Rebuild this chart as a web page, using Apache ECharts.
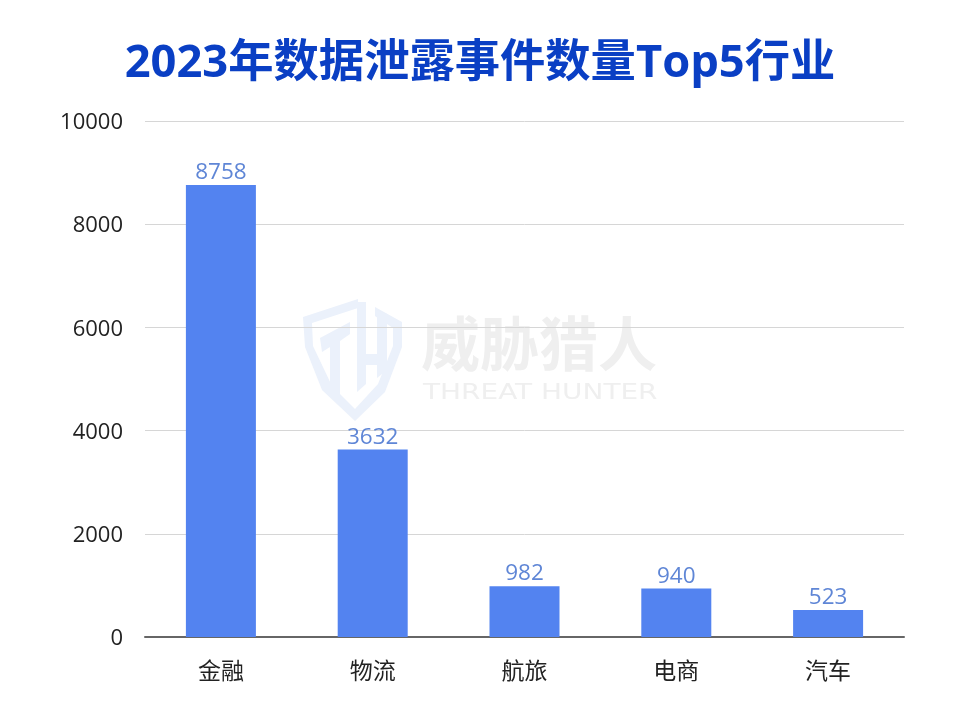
<!DOCTYPE html>
<html><head><meta charset="utf-8">
<style>html,body{margin:0;padding:0;background:#fff}#c{width:960px;height:720px}</style>
<script src="https://cdn.jsdelivr.net/npm/echarts@6/dist/echarts.min.js"></script>
</head><body><div id="c"></div>
<script>
const titleText = '2023年数据泄露事件数量Top5行业';
const categories = ['金融','物流','航旅','电商','汽车'];
const values = [8758,3632,982,940,523];
const FONT = '"Open Sans","Noto Sans CJK SC",sans-serif';
const WM = '#ebf1fb';
const chart = echarts.init(document.getElementById('c'));
function poly(points){return {type:'polygon',z:-10,silent:true,shape:{points},style:{fill:WM}};}
chart.setOption({
  backgroundColor:'#fff',
  animation:false,
  title:{text:titleText,left:'center',top:36,
    textStyle:{fontFamily:FONT,fontSize:45.3,fontWeight:'bold',color:'#0a3fc4'}},
  grid:{left:145,right:56,top:121,bottom:83,containLabel:false},
  xAxis:{type:'category',data:categories,
    axisTick:{show:false},
    axisLine:{lineStyle:{color:'#666',width:2}},
    axisLabel:{margin:24,fontFamily:FONT,fontSize:23,color:'#222'}},
  yAxis:{type:'value',min:0,max:10000,interval:2000,
    axisLine:{show:false},axisTick:{show:false},
    splitLine:{lineStyle:{color:'#d6d6d6',width:1}},
    axisLabel:{margin:22,fontFamily:FONT,fontSize:22,color:'#222',
      formatter:v=>'{a|'+v+'}',
      rich:{a:{fontFamily:FONT,fontSize:22,color:'#222',padding:[4,0,0,0]}}}},
  series:[{type:'bar',data:values,barWidth:70,
    itemStyle:{color:'#5383f0'},
    label:{show:true,position:'top',distance:1,fontFamily:FONT,fontSize:22.5,color:'#5f86d6'}}],
  graphic:[
    poly([[358,299],[303,317],[305,347],[322,390],[355,421],[385,392],[402,347],[402,322],[375,307],[375,316],[393,328],[393,346],[378,384],[355,409],[332,386],[313,346],[312,323],[358,308]]),
    poly([[320,338],[350,322],[350,334],[340,341],[340,403],[330,392],[330,347],[322,352]]),
    poly([[357,302],[366,302],[366,354],[377,354],[377,310],[387,314],[387,370],[377,378],[377,365],[366,365],[366,384],[357,392]]),
    {type:'text',z:-8,silent:true,left:421,top:314,
     style:{text:'威胁猎人',font:'bold 59px "Noto Sans CJK SC"',fill:'#efefef'}},
    {type:'text',z:-8,silent:true,x:423,y:382,scaleX:1.27,
     style:{text:'THREAT HUNTER',font:'22px "DejaVu Sans"',fill:'#efefef'}}
  ]
});
</script></body></html>
